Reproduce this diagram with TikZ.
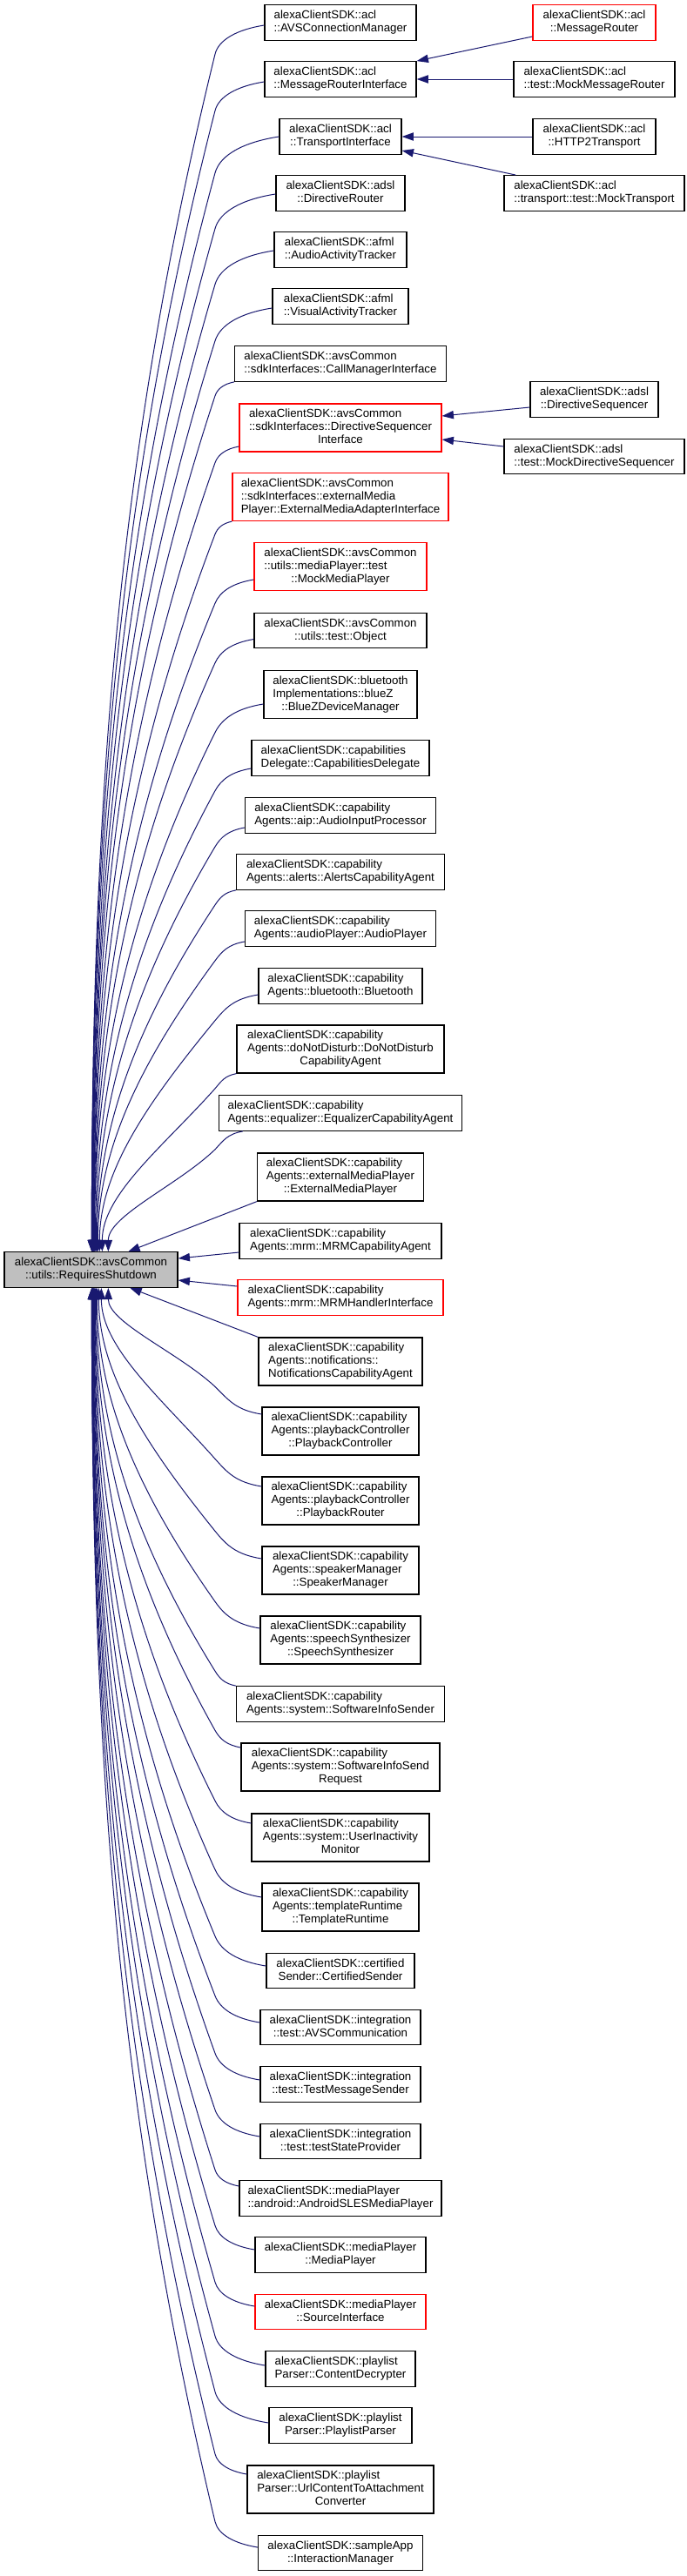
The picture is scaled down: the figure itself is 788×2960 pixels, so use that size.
\documentclass[tikz,border=0pt]{standalone}
\usepackage{fontspec}
\setmainfont{Liberation Sans}
\usetikzlibrary{calc,arrows.meta}
\definecolor{edgeblue}{HTML}{191970}
\definecolor{rootgrey}{HTML}{BFBFBF}
\newcommand\lbtwo[2]{\begin{tabular}{@{}l@{}}#1\\\multicolumn{1}{@{}c@{}}{#2}\end{tabular}}
\newcommand\lbthree[3]{\begin{tabular}{@{}l@{}}#1\\#2\\\multicolumn{1}{@{}c@{}}{#3}\end{tabular}}
\tikzset{
  box/.style={draw=black, line width=1.3pt, inner sep=0pt, font=\fontsize{13.3}{15}\selectfont, text=black},
  two/.style={box, minimum height=40.5pt},
  three/.style={box, minimum height=55pt},
  redbox/.style={draw=red},
  rootbox/.style={fill=rootgrey},
  conn/.style={draw=edgeblue, line width=1pt, -{Triangle[length=13.3pt,width=9.3pt]}, fill=none}
}
\newcommand\upedge[2]{%
  \draw[conn] let \p1=($#1$), \p2=($(main.north west)+(#2,0)$),
    \n1={0.5*(\x1-247pt)+5pt},
    \n2={\x2-247pt},
    \n3={\y2-\y1+\n1},
    \n4={max(0.35,0.9-0.65*abs(\n2)/abs(\n3))},
    \n5={min(1.43*\n4*abs(\n2)/abs(\n3)*\n1,0.3*(\x1-247pt))}
  in (\p1) .. controls (0.45*\x1+0.55*247pt,\y1-0.15*\n1) and (247pt+\n5,\y1-0.5*\n1) .. (247pt,\y1-\n1)
     .. controls (247pt+\n4*\n2,\y1-\n1+0.35*\n3) and (\x2,\y1-\n1+0.65*\n3) .. (\p2);}
\newcommand\downedge[2]{%
  \draw[conn] let \p1=($#1$), \p2=($(main.south west)+(#2,0)$),
    \n1={0.5*(\x1-247pt)+5pt},
    \n2={\x2-247pt},
    \n3={\y2-\y1-\n1},
    \n4={max(0.35,0.9-0.65*abs(\n2)/abs(\n3))},
    \n5={min(1.43*\n4*abs(\n2)/abs(\n3)*\n1,0.3*(\x1-247pt))}
  in (\p1) .. controls (0.45*\x1+0.55*247pt,\y1+0.15*\n1) and (247pt+\n5,\y1+0.5*\n1) .. (247pt,\y1+\n1)
     .. controls (247pt+\n4*\n2,\y1+\n1+0.35*\n3) and (\x2,\y1+\n1+0.65*\n3) .. (\p2);}
\begin{document}
\begin{tikzpicture}[x=1pt,y=1pt]
\fill[white] (0,0) rectangle (788,-2960);
\useasboundingbox (0,0) rectangle (788,-2960);
% root
\node[two,rootbox,minimum width=199] (main) at (104.5,-1459) {\lbtwo{alexaClientSDK::avsCommon}{::utils::RequiresShutdown}};
% middle column
\node[two,minimum width=174] (a1) at (391,-26) {\lbtwo{alexaClientSDK::acl}{::AVSConnectionManager}};
\node[two,minimum width=174] (a2) at (391,-91) {\lbtwo{alexaClientSDK::acl}{::MessageRouterInterface}};
\node[two,minimum width=140] (a3) at (391,-157) {\lbtwo{alexaClientSDK::acl}{::TransportInterface}};
\node[two,minimum width=148] (a4) at (391,-222) {\lbtwo{alexaClientSDK::adsl}{::DirectiveRouter}};
\node[two,minimum width=152] (a5) at (391,-287) {\lbtwo{alexaClientSDK::afml}{::AudioActivityTracker}};
\node[two,minimum width=156] (a6) at (391,-352) {\lbtwo{alexaClientSDK::afml}{::VisualActivityTracker}};
\node[two,minimum width=243] (a7) at (391,-418) {\lbtwo{alexaClientSDK::avsCommon}{::sdkInterfaces::CallManagerInterface}};
\node[three,redbox,minimum width=232] (a8) at (391,-491.5) {\lbthree{alexaClientSDK::avsCommon}{::sdkInterfaces::DirectiveSequencer}{Interface}};
\node[three,redbox,minimum width=248] (a9) at (391,-571) {\lbthree{alexaClientSDK::avsCommon}{::sdkInterfaces::externalMedia}{Player::ExternalMediaAdapterInterface}};
\node[three,redbox,minimum width=198] (a10) at (391,-651) {\lbthree{alexaClientSDK::avsCommon}{::utils::mediaPlayer::test}{::MockMediaPlayer}};
\node[two,minimum width=198] (a11) at (391,-724.5) {\lbtwo{alexaClientSDK::avsCommon}{::utils::test::Object}};
\node[three,minimum width=176] (a12) at (391,-798) {\lbthree{alexaClientSDK::bluetooth}{Implementations::blueZ}{::BlueZDeviceManager}};
\node[two,minimum width=204] (a13) at (391,-871) {\lbtwo{alexaClientSDK::capabilities}{Delegate::CapabilitiesDelegate}};
\node[two,minimum width=219] (a14) at (391,-937) {\lbtwo{alexaClientSDK::capability}{Agents::aip::AudioInputProcessor}};
\node[two,minimum width=239] (a15) at (391,-1002) {\lbtwo{alexaClientSDK::capability}{Agents::alerts::AlertsCapabilityAgent}};
\node[two,minimum width=219] (a16) at (391,-1067) {\lbtwo{alexaClientSDK::capability}{Agents::audioPlayer::AudioPlayer}};
\node[two,minimum width=188] (a17) at (391,-1133) {\lbtwo{alexaClientSDK::capability}{Agents::bluetooth::Bluetooth}};
\node[three,minimum width=238] (a18) at (391,-1205.5) {\lbthree{alexaClientSDK::capability}{Agents::doNotDisturb::DoNotDisturb}{CapabilityAgent}};
\node[two,minimum width=279] (a19) at (391,-1279) {\lbtwo{alexaClientSDK::capability}{Agents::equalizer::EqualizerCapabilityAgent}};
\node[three,minimum width=191] (a20) at (391,-1352.5) {\lbthree{alexaClientSDK::capability}{Agents::externalMediaPlayer}{::ExternalMediaPlayer}};
\node[two,minimum width=232] (a21) at (391,-1426) {\lbtwo{alexaClientSDK::capability}{Agents::mrm::MRMCapabilityAgent}};
\node[two,redbox,minimum width=236] (a22) at (391,-1491) {\lbtwo{alexaClientSDK::capability}{Agents::mrm::MRMHandlerInterface}};
\node[three,minimum width=188] (a23) at (391,-1564.5) {\lbthree{alexaClientSDK::capability}{Agents::notifications::}{NotificationsCapabilityAgent}};
\node[three,minimum width=180] (a24) at (391,-1644.5) {\lbthree{alexaClientSDK::capability}{Agents::playbackController}{::PlaybackController}};
\node[three,minimum width=180] (a25) at (391,-1724.5) {\lbthree{alexaClientSDK::capability}{Agents::playbackController}{::PlaybackRouter}};
\node[three,minimum width=180] (a26) at (391,-1804.5) {\lbthree{alexaClientSDK::capability}{Agents::speakerManager}{::SpeakerManager}};
\node[three,minimum width=184] (a27) at (391,-1884.5) {\lbthree{alexaClientSDK::capability}{Agents::speechSynthesizer}{::SpeechSynthesizer}};
\node[two,minimum width=239] (a28) at (391,-1958) {\lbtwo{alexaClientSDK::capability}{Agents::system::SoftwareInfoSender}};
\node[three,minimum width=228] (a29) at (391,-2030.5) {\lbthree{alexaClientSDK::capability}{Agents::system::SoftwareInfoSend}{Request}};
\node[three,minimum width=204] (a30) at (391,-2111.5) {\lbthree{alexaClientSDK::capability}{Agents::system::UserInactivity}{Monitor}};
\node[three,minimum width=180] (a31) at (391,-2191.5) {\lbthree{alexaClientSDK::capability}{Agents::templateRuntime}{::TemplateRuntime}};
\node[two,minimum width=170] (a32) at (391,-2264.5) {\lbtwo{alexaClientSDK::certified}{Sender::CertifiedSender}};
\node[two,minimum width=184] (a33) at (391,-2329.5) {\lbtwo{alexaClientSDK::integration}{::test::AVSCommunication}};
\node[two,minimum width=184] (a34) at (391,-2395) {\lbtwo{alexaClientSDK::integration}{::test::TestMessageSender}};
\node[two,minimum width=184] (a35) at (391,-2460.5) {\lbtwo{alexaClientSDK::integration}{::test::testStateProvider}};
\node[two,minimum width=232] (a36) at (391,-2526) {\lbtwo{alexaClientSDK::mediaPlayer}{::android::AndroidSLESMediaPlayer}};
\node[two,minimum width=196] (a37) at (391,-2591) {\lbtwo{alexaClientSDK::mediaPlayer}{::MediaPlayer}};
\node[two,redbox,minimum width=196] (a38) at (391,-2656.5) {\lbtwo{alexaClientSDK::mediaPlayer}{::SourceInterface}};
\node[two,minimum width=172] (a39) at (391,-2722) {\lbtwo{alexaClientSDK::playlist}{Parser::ContentDecrypter}};
\node[two,minimum width=164] (a40) at (391,-2787) {\lbtwo{alexaClientSDK::playlist}{Parser::PlaylistParser}};
\node[three,minimum width=214] (a41) at (391,-2860.5) {\lbthree{alexaClientSDK::playlist}{Parser::UrlContentToAttachment}{Converter}};
\node[two,minimum width=189] (a42) at (391,-2933.5) {\lbtwo{alexaClientSDK::sampleApp}{::InteractionManager}};
% right column
\node[two,redbox,minimum width=141] (r1) at (682.5,-26) {\lbtwo{alexaClientSDK::acl}{::MessageRouter}};
\node[two,minimum width=185] (r2) at (682.5,-91) {\lbtwo{alexaClientSDK::acl}{::test::MockMessageRouter}};
\node[two,minimum width=141] (r3) at (682.5,-157) {\lbtwo{alexaClientSDK::acl}{::HTTP2Transport}};
\node[two,minimum width=207] (r4) at (682.5,-222) {\lbtwo{alexaClientSDK::acl}{::transport::test::MockTransport}};
\node[two,minimum width=147] (r5) at (682.5,-459) {\lbtwo{alexaClientSDK::adsl}{::DirectiveSequencer}};
\node[two,minimum width=207] (r6) at (682.5,-524.5) {\lbtwo{alexaClientSDK::adsl}{::test::MockDirectiveSequencer}};
% right column connectors
\draw[conn] ($(r1.west)+(0,-16)$) -- (a2.north east);
\draw[conn] (r2.west) -- (a2.east);
\draw[conn] (r3.west) -- (a3.east);
\draw[conn] ($(r4.north west)+(14,0)$) -- ($(a3.east)+(0,-16)$);
\draw[conn] ($(r5.west)+(0,-9)$) -- ($(a8.east)+(0,13.5)$);
\draw[conn] ($(r6.west)+(0,11.5)$) -- ($(a8.east)+(0,-13.5)$);
% connectors above root
\upedge{(a1.west)+(0,-3)}{101}
\upedge{(a2.west)+(0,-3)}{101}
\upedge{(a3.west)}{101}
\upedge{(a4.west)+(0,-1)}{101.5}
\upedge{(a5.west)+(0,-1)}{102}
\upedge{(a6.west)+(0,-2)}{102}
\upedge{(a7.south west)}{102.5}
\upedge{(a8.west)+(0,-21.5)}{103}
\upedge{(a9.south west)}{103}
\upedge{(a10.west)+(0,-15)}{103.5}
\upedge{(a11.west)+(0,-10)}{104}
\upedge{(a12.west)+(0,-11)}{104}
\upedge{(a13.west)+(0,-12)}{105}
\upedge{(a14.west)+(0,-14)}{106}
\upedge{(a15.south west)}{107}
\upedge{(a16.west)+(0,-15)}{108}
\upedge{(a17.west)+(0,-10)}{110}
\upedge{(a18.south west)}{113}
\upedge{(a19.south west)+(28,0)}{120}
\draw[conn] (a20.south west) -- ($(main.north west)+(143,0)$);
\draw[conn] ($(a21.west)+(0,-13)$) -- ($(main.east)+(0,13)$);
\draw[conn] ($(a22.west)+(0,13)$) -- ($(main.east)+(0,-12)$);
\draw[conn] (a23.north west) -- ($(main.south west)+(145,0)$);
% connectors below root
\downedge{(a24.west)+(0,19.5)}{120}
\downedge{(a25.west)+(0,16.5)}{112}
\downedge{(a26.west)+(0,13.5)}{109}
\downedge{(a27.west)+(0,13.5)}{107}
\downedge{(a28.north west)}{106}
\downedge{(a29.west)+(0,22.5)}{105}
\downedge{(a30.west)+(0,16.5)}{104.5}
\downedge{(a31.west)+(0,11.5)}{104}
\downedge{(a32.west)+(0,5.5)}{103.5}
\downedge{(a33.west)+(0,5.5)}{103}
\downedge{(a34.west)+(0,5)}{103}
\downedge{(a35.west)+(0,5.5)}{102.5}
\downedge{(a36.west)+(0,14)}{102}
\downedge{(a37.west)+(0,6)}{102}
\downedge{(a38.west)+(0,6.5)}{101.5}
\downedge{(a39.west)+(0,4)}{101.5}
\downedge{(a40.west)+(0,3)}{101}
\downedge{(a41.west)+(0,17.5)}{101}
\downedge{(a42.west)+(0,6.5)}{101}
\end{tikzpicture}
\end{document}
